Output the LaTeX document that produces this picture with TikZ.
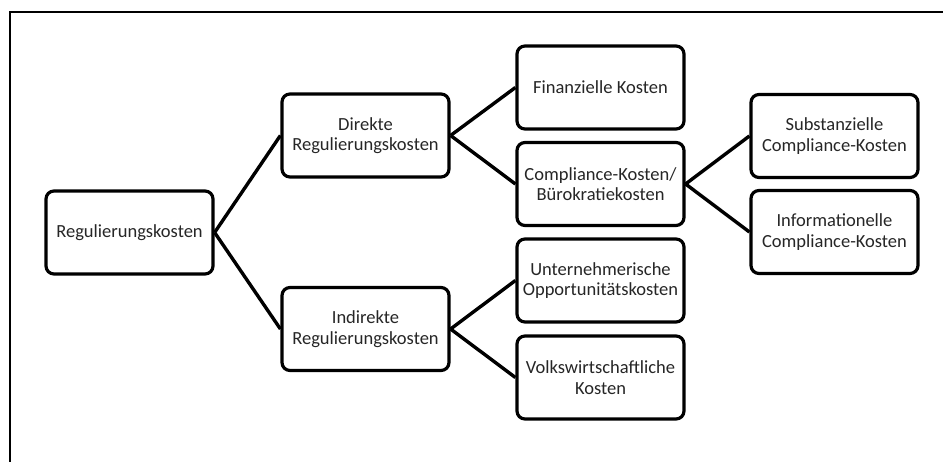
\documentclass[tikz,border=0pt]{standalone}
\usepackage{fontspec}
\setmainfont{Carlito}
\begin{document}
\begin{tikzpicture}[x=1pt,y=-1pt,
  box/.style={draw=black, line width=3.2pt, rounded corners=8pt, minimum width=167pt, minimum height=83pt, align=center, inner sep=0pt,
    font=\fontsize{18.5}{20.5}\selectfont, text=black!85},
  conn/.style={line width=3.4pt, black}]
\useasboundingbox (0,0) rectangle (943,462);
\fill[white] (0,0) rectangle (943,462);
\draw[line width=1.8pt] (943,12) -- (10,12) -- (10,462);
\node[box] (root) at (129.5,232.5) {Regulierungskosten};
\node[box] (dir) at (365.5,135.5) {Direkte\\Regulierungskosten};
\node[box] (ind) at (365.5,329) {Indirekte\\Regulierungskosten};
\node[box] (fin) at (600.5,87.5) {Finanzielle Kosten};
\node[box] (comp) at (600.5,184) {Compliance-Kosten/\\Bürokratiekosten};
\node[box] (unt) at (600.5,280.5) {Unternehmerische\\Opportunitätskosten};
\node[box] (volk) at (600.5,377.5) {Volkswirtschaftliche\\Kosten};
\node[box] (sub) at (834.5,136) {Substanzielle\\Compliance-Kosten};
\node[box] (inf) at (834.5,232) {Informationelle\\Compliance-Kosten};
\draw[conn] (root.east) -- (dir.west);
\draw[conn] (root.east) -- (ind.west);
\draw[conn] (dir.east) -- (fin.west);
\draw[conn] (dir.east) -- (comp.west);
\draw[conn] (ind.east) -- (unt.west);
\draw[conn] (ind.east) -- (volk.west);
\draw[conn] (comp.east) -- (sub.west);
\draw[conn] (comp.east) -- (inf.west);
\end{tikzpicture}
\end{document}
